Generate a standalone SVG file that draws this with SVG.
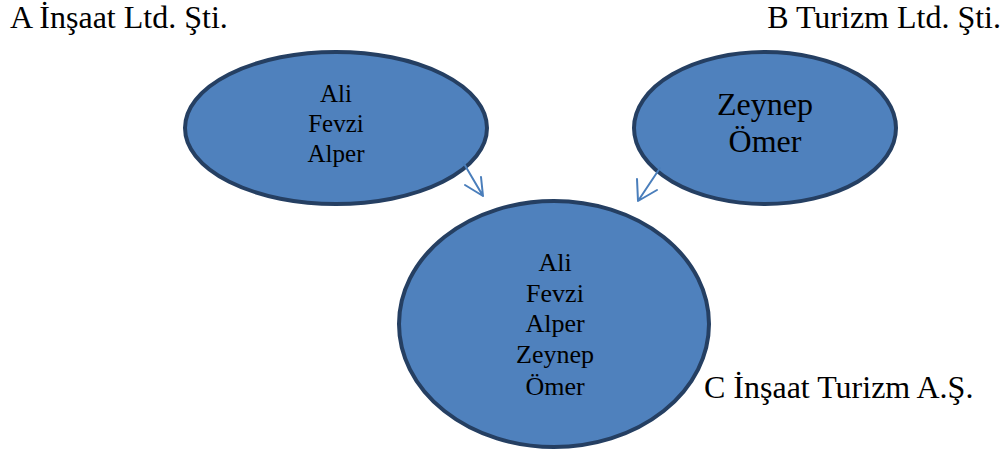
<svg xmlns="http://www.w3.org/2000/svg" width="1004" height="449" viewBox="0 0 1004 449">
<defs>
<style>
.node{fill:#4F81BD;stroke:#253F62;stroke-width:4}
.t{font-family:"Liberation Serif","Times New Roman",serif;fill:#000}
.c{text-anchor:middle}
.conn{stroke:#4A7EBB;stroke-width:2;fill:none;stroke-linecap:round;stroke-linejoin:round}
</style>
</defs>
<rect width="1004" height="449" fill="#fff"/>
<g id="labelA"><text class="t" x="10" y="28" font-size="32">A İnşaat Ltd. Şti.</text></g>
<g id="labelB"><text class="t" x="1001" y="28" font-size="32" text-anchor="end">B Turizm Ltd. Şti.</text></g>
<g id="nodeA">
<ellipse class="node" cx="336" cy="128" rx="151" ry="76"/>
<text class="t c" x="336" y="102" font-size="25">Ali</text>
<text class="t c" x="336" y="132" font-size="25">Fevzi</text>
<text class="t c" x="336" y="162" font-size="25">Alper</text>
</g>
<g id="nodeB">
<ellipse class="node" cx="765" cy="128" rx="131" ry="76"/>
<text class="t c" x="765" y="115" font-size="32">Zeynep</text>
<text class="t c" x="765" y="152" font-size="32">Ömer</text>
</g>
<g id="nodeC">
<ellipse class="node" cx="554" cy="324" rx="155" ry="123"/>
<text class="t c" x="555" y="271" font-size="26">Ali</text>
<text class="t c" x="555" y="302" font-size="26">Fevzi</text>
<text class="t c" x="555" y="332" font-size="26">Alper</text>
<text class="t c" x="555" y="363" font-size="26">Zeynep</text>
<text class="t c" x="555" y="395" font-size="26">Ömer</text>
</g>
<g id="labelC"><text class="t" x="704" y="398" font-size="32">C İnşaat Turizm A.Ş.</text></g>
<g id="connectors">
<path class="conn" d="M463,162 L483,196 M465,185 L483,196 L481,177"/>
<path class="conn" d="M660,168 L638,201 M637,179 L638,201 L657,190"/>
</g>
</svg>
